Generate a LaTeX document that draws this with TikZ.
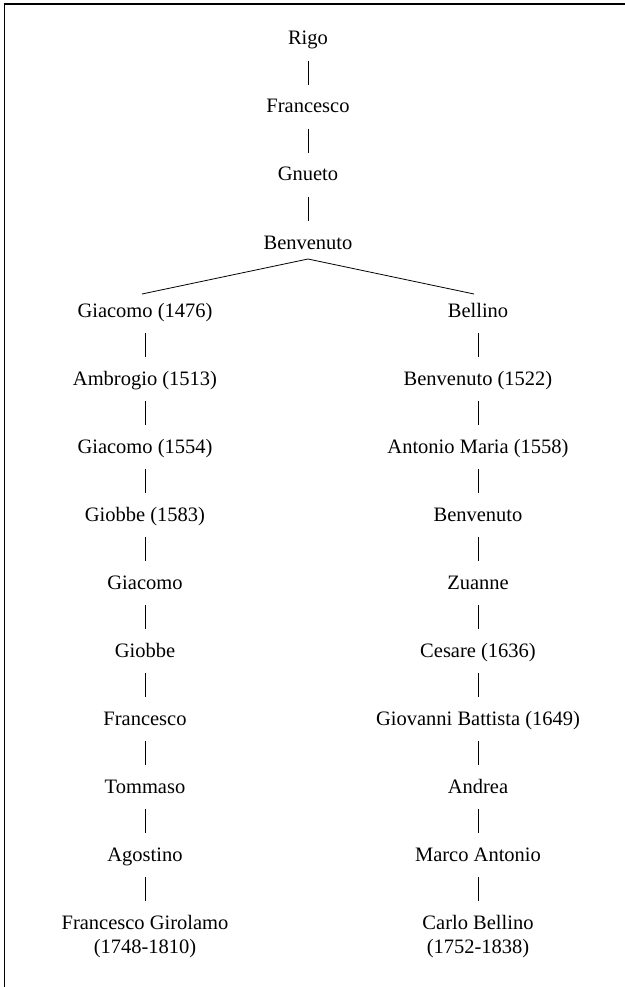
\documentclass[tikz,border=0pt]{standalone}
\usepackage{fontspec}
\setmainfont{Liberation Serif}
\begin{document}
\begin{tikzpicture}[x=1pt,y=-1pt,
  person/.style={anchor=base,inner sep=0pt,font=\fontsize{20.5}{24}\selectfont},
  bar/.style={line width=0.9pt},
  branch/.style={line width=0.8pt},
  frame/.style={line width=1.2pt}]
\useasboundingbox (0,0) rectangle (625,987);
\coordinate (fb) at (4.5,987);
\coordinate (fc) at (4.5,4);
\coordinate (fr) at (625,4);
\draw[frame] (fb) -- (fc) -- (fr);
% top line
\node[person] (rigo) at (308,45) {Rigo};
\node[person] (fra) at (308,113) {Francesco};
\node[person] (gnu) at (308,181) {Gnueto};
\node[person] (ben) at (308,249) {Benvenuto};
% left line
\node[person] (l1) at (145,317) {Giacomo (1476)};
\node[person] (l2) at (145,385) {Ambrogio (1513)};
\node[person] (l3) at (145,453) {Giacomo (1554)};
\node[person] (l4) at (145,521) {Giobbe (1583)};
\node[person] (l5) at (145,589) {Giacomo};
\node[person] (l6) at (145,657) {Giobbe};
\node[person] (l7) at (145,725) {Francesco};
\node[person] (l8) at (145,793) {Tommaso};
\node[person] (l9) at (145,861) {Agostino};
\node[person] (l10) at (145,929) {\begin{tabular}[t]{@{}c@{}}Francesco Girolamo\\(1748-1810)\end{tabular}};
% right line
\node[person] (r1) at (478,317) {Bellino};
\node[person] (r2) at (478,385) {Benvenuto (1522)};
\node[person] (r3) at (478,453) {Antonio Maria (1558)};
\node[person] (r4) at (478,521) {Benvenuto};
\node[person] (r5) at (478,589) {Zuanne};
\node[person] (r6) at (478,657) {Cesare (1636)};
\node[person] (r7) at (478,725) {Giovanni Battista (1649)};
\node[person] (r8) at (478,793) {Andrea};
\node[person] (r9) at (478,861) {Marco Antonio};
\node[person] (r10) at (478,929) {\begin{tabular}[t]{@{}c@{}}Carlo Bellino\\(1752-1838)\end{tabular}};
% bars
\foreach \a/\b in {rigo/fra,fra/gnu,gnu/ben,
  l1/l2,l2/l3,l3/l4,l4/l5,l5/l6,l6/l7,l7/l8,l8/l9,l9/l10,
  r1/r2,r2/r3,r3/r4,r4/r5,r5/r6,r6/r7,r7/r8,r8/r9,r9/r10}
  \draw[bar] ([yshift=-16pt]\a.base) -- ([yshift=28pt]\b.base);
% branches
\coordinate (apex) at ([yshift=-10pt]ben.base);
\draw[branch] ([xshift=-3pt,yshift=23pt]l1.base) -- (apex) -- ([xshift=-4pt,yshift=23pt]r1.base);
\end{tikzpicture}
\end{document}
